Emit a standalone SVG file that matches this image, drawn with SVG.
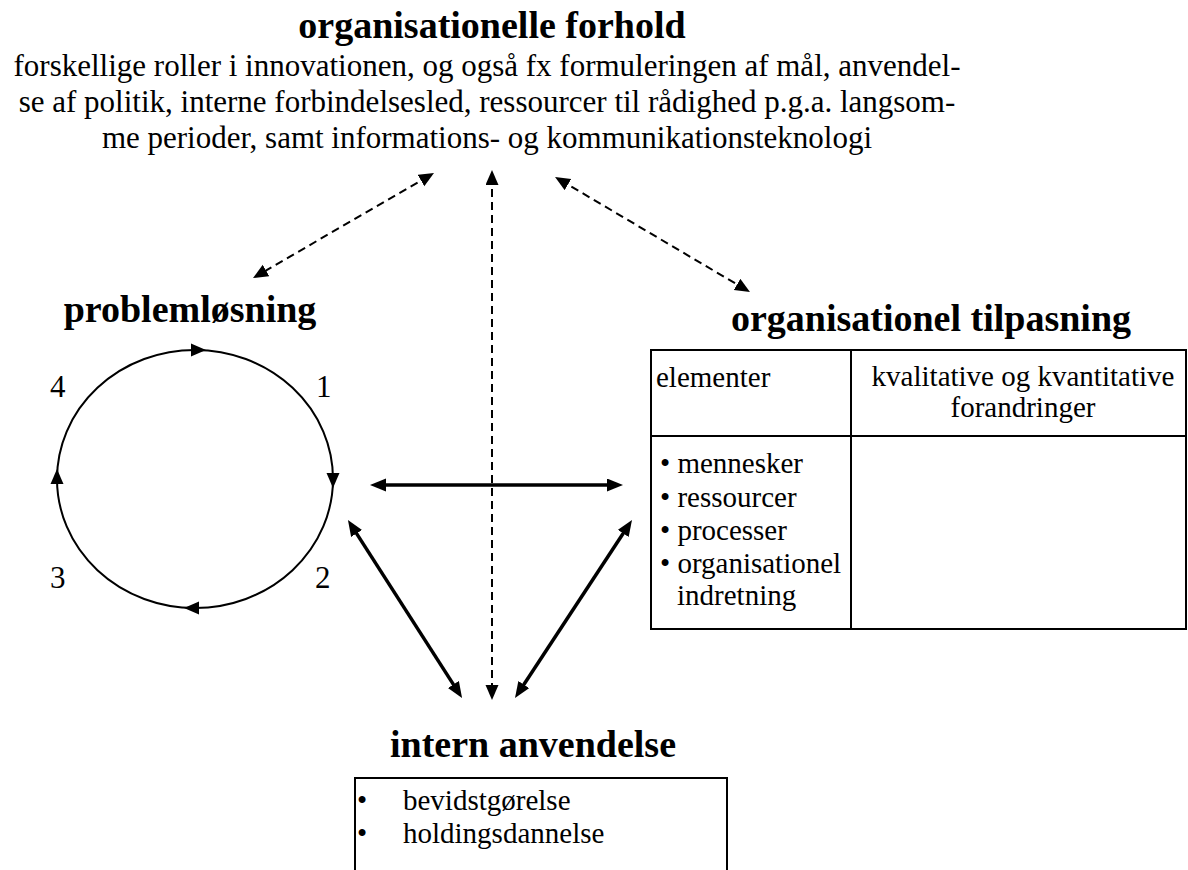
<svg xmlns="http://www.w3.org/2000/svg" width="1188" height="870" viewBox="0 0 1188 870">
  <defs>
    <style>
      text { font-family: "Liberation Serif", "Times New Roman", serif; fill: #000; }
      .head { font-size: 38px; font-weight: bold; }
      .para { font-size: 31px; }
      .body { font-size: 29px; }
      .num { font-size: 31px; }
      .frame { fill: none; stroke: #000; stroke-width: 2; }
      .dash { fill: none; stroke: #000; stroke-width: 2; stroke-dasharray: 8 5; }
      .solid { fill: none; stroke: #000; stroke-width: 3.5; }
      .cycle { fill: none; stroke: #000; stroke-width: 2; }
      .tip { fill: #000; stroke: none; }
    </style>
    <!-- heads for the thick two-way links -->
    <marker id="headSolid" markerUnits="userSpaceOnUse" markerWidth="18" markerHeight="14" refX="10" refY="6.5" orient="auto-start-reverse">
      <path d="M0,0 L16,6.5 L0,13 Z" fill="#000"/>
    </marker>
    <!-- heads for the dashed links -->
    <marker id="headDash" markerUnits="userSpaceOnUse" markerWidth="16" markerHeight="14" refX="9" refY="6.5" orient="auto-start-reverse">
      <path d="M0,0 L15,6.5 L0,13 Z" fill="#000"/>
    </marker>
  </defs>

  <rect width="1188" height="870" fill="#fff"/>

  <!-- top node: organisational conditions -->
  <g id="organisationelle-forhold">
    <text class="head" x="492" y="38" text-anchor="middle">organisationelle forhold</text>
    <text class="para" x="487" y="76" text-anchor="middle">forskellige roller i innovationen, og også fx formuleringen af mål, anvendel-</text>
    <text class="para" x="487" y="112" text-anchor="middle">se af politik, interne forbindelsesled, ressourcer til rådighed p.g.a. langsom-</text>
    <text class="para" x="487" y="148" text-anchor="middle">me perioder, samt informations- og kommunikationsteknologi</text>
  </g>

  <!-- left node: problem-solving cycle -->
  <g id="problemloesning">
    <text class="head" x="190" y="322" text-anchor="middle">problemløsning</text>
    <ellipse class="cycle" cx="195" cy="479" rx="138" ry="129"/>
    <polygon class="tip" points="206,350 191,343.5 191,356.5"/>
    <polygon class="tip" points="333,488 326.5,473 339.5,473"/>
    <polygon class="tip" points="184,608 199,601.5 199,614.5"/>
    <polygon class="tip" points="57,469 50.5,484 63.5,484"/>
    <text class="num" x="50" y="397">4</text>
    <text class="num" x="316" y="397">1</text>
    <text class="num" x="50" y="588">3</text>
    <text class="num" x="315" y="588">2</text>
  </g>

  <!-- right node: organisational adaptation table -->
  <g id="organisationel-tilpasning">
    <text class="head" x="931" y="331" text-anchor="middle">organisationel tilpasning</text>
    <rect class="frame" x="651" y="350" width="535" height="279"/>
    <line class="frame" x1="851" y1="350" x2="851" y2="629"/>
    <line class="frame" x1="651" y1="436" x2="1186" y2="436"/>
    <text class="body" x="656" y="387">elementer</text>
    <text class="body" x="1023" y="386" text-anchor="middle">kvalitative og kvantitative</text>
    <text class="body" x="1023" y="417" text-anchor="middle">forandringer</text>
    <text class="body" x="660" y="473">• mennesker</text>
    <text class="body" x="660" y="507">• ressourcer</text>
    <text class="body" x="660" y="540">• processer</text>
    <text class="body" x="660" y="573">• organisationel</text>
    <text class="body" x="677" y="605">indretning</text>
  </g>

  <!-- bottom node: internal use -->
  <g id="intern-anvendelse">
    <text class="head" x="533" y="757" text-anchor="middle">intern anvendelse</text>
    <path class="frame" d="M355,872 V778 H727 V872"/>
    <text class="body" x="357" y="810">•</text>
    <text class="body" x="403" y="810">bevidstgørelse</text>
    <text class="body" x="357" y="843">•</text>
    <text class="body" x="403" y="843">holdingsdannelse</text>
  </g>

  <!-- connectors -->
  <g id="connectors">
    <line class="dash" x1="428.8" y1="176" x2="258.2" y2="275" marker-start="url(#headDash)" marker-end="url(#headDash)"/>
    <line class="dash" x1="492" y1="176" x2="492" y2="694" marker-start="url(#headDash)" marker-end="url(#headDash)"/>
    <line class="dash" x1="560.2" y1="180" x2="744.8" y2="289" marker-start="url(#headDash)" marker-end="url(#headDash)"/>
    <line class="solid" x1="376" y1="485" x2="617" y2="485" marker-start="url(#headSolid)" marker-end="url(#headSolid)"/>
    <line class="solid" x1="351.2" y1="525.1" x2="458.8" y2="692.9" marker-start="url(#headSolid)" marker-end="url(#headSolid)"/>
    <line class="solid" x1="628.7" y1="525" x2="518.3" y2="693" marker-start="url(#headSolid)" marker-end="url(#headSolid)"/>
  </g>
</svg>
